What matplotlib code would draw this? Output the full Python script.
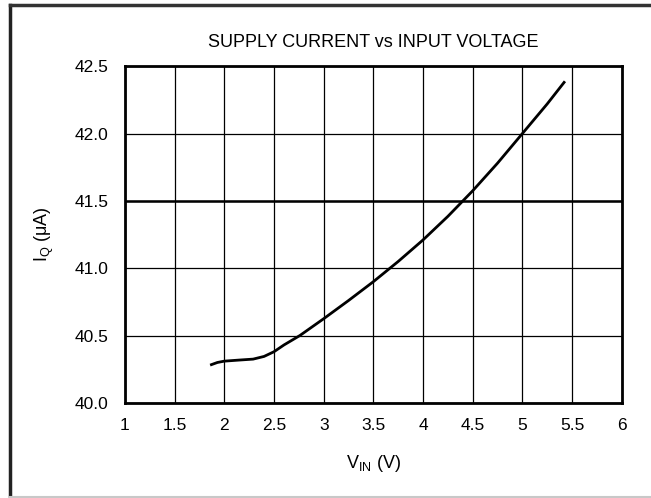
"""Supply current vs input voltage curve."""
import matplotlib

matplotlib.use("Agg")
import matplotlib.pyplot as plt
from matplotlib.lines import Line2D

plt.rcParams["font.family"] = ["Liberation Sans", "DejaVu Sans"]
plt.rcParams["mathtext.fontset"] = "custom"
plt.rcParams["mathtext.rm"] = "Liberation Sans"

# values
V_IN = [1.87, 1.93, 2.0, 2.15, 2.29, 2.4, 2.5, 2.6, 2.68, 2.76, 3.0, 3.25,
        3.5, 3.75, 4.0, 4.25, 4.5, 4.75, 5.0, 5.25, 5.42]
I_Q = [40.284, 40.30, 40.31, 40.318, 40.325, 40.345, 40.38, 40.43, 40.465,
       40.50, 40.625, 40.76, 40.90, 41.05, 41.21, 41.385, 41.575, 41.78,
       42.0, 42.22, 42.38]

X_TICKS = [1, 1.5, 2, 2.5, 3, 3.5, 4, 4.5, 5, 5.5, 6]
X_LABELS = ["1", "1.5", "2", "2.5", "3", "3.5", "4", "4.5", "5", "5.5", "6"]
Y_TICKS = [40.0, 40.5, 41.0, 41.5, 42.0, 42.5]
Y_LABELS = ["40.0", "40.5", "41.0", "41.5", "42.0", "42.5"]

fig = plt.figure(figsize=(6.51, 4.98), dpi=100)
ax = fig.add_axes([0.192, 0.191, 0.763, 0.676])

ax.plot(V_IN, I_Q, color="black", linewidth=2.0, solid_joinstyle="round")

ax.set_xlim(1, 6)
ax.set_ylim(40.0, 42.5)
ax.set_xticks(X_TICKS, X_LABELS)
ax.set_yticks(Y_TICKS, Y_LABELS)
ax.tick_params(axis="both", length=0, labelsize=12.5)
ax.tick_params(axis="x", pad=11)
ax.tick_params(axis="y", pad=12)
ax.grid(True, color="black", linewidth=0.9)
ax.axhline(41.5, color="black", linewidth=1.8)
for spine in ax.spines.values():
    spine.set_linewidth(2.0)
    spine.set_color("black")

ax.set_title("SUPPLY CURRENT vs INPUT VOLTAGE", fontsize=13, pad=14)
ax.set_xlabel(r"V$_\mathregular{IN}$ (V)", fontsize=13, labelpad=14)
ax.set_ylabel(r"I$_\mathregular{Q}$ ($\mathregular{\mu}$A)", fontsize=13, labelpad=13)

# outer frame of the figure
fig.add_artist(Line2D([0.016, 0.016], [0.004, 0.99], color="#222222", linewidth=2.5))
fig.add_artist(Line2D([0.016, 1.0], [0.99, 0.99], color="#333333", linewidth=2.5))
fig.add_artist(Line2D([0.016, 1.0], [0.003, 0.003], color="#c8c8c8", linewidth=1.5))

fig.savefig("out.png", dpi=100)
